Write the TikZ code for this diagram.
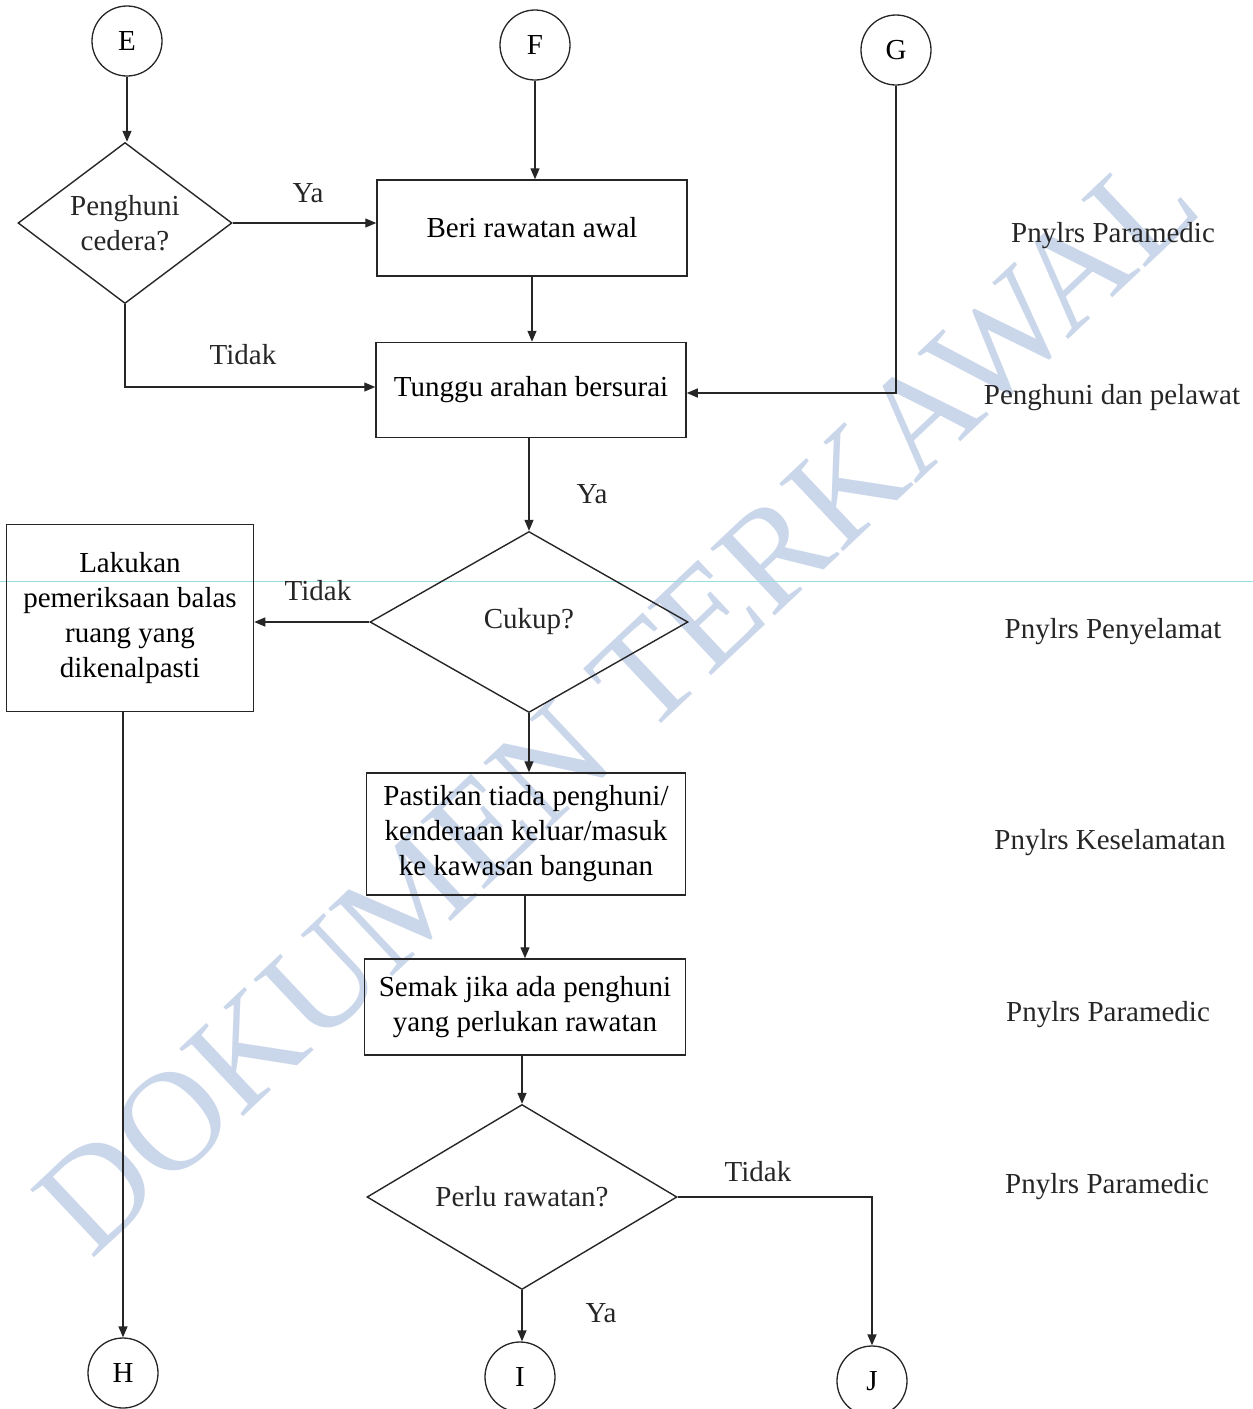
\documentclass[tikz,border=0pt]{standalone}
\usepackage{fontspec}
\setmainfont{Liberation Serif}
\usetikzlibrary{shapes.geometric,arrows.meta,calc}
\definecolor{ink}{rgb}{0.15,0.15,0.15}
\definecolor{wmblue}{RGB}{202,214,234}
\definecolor{scanline}{RGB}{150,222,222}
\tikzset{
  flowbox/.style={draw=ink, line width=1.5pt, rectangle, inner sep=0pt, align=center},
  dia/.style={draw=ink, line width=1.4pt, diamond, inner sep=0pt},
  conn/.style={draw=ink, circle, line width=1.3pt, minimum size=70pt, inner sep=0pt},
  arr/.style={draw=ink, line width=1.3pt, -{Triangle[length=11pt,width=9pt]}},
  lbl/.style={text=ink, inner sep=0pt},
  role/.style={text=ink, inner sep=0pt},
}
\begin{document}
\begin{tikzpicture}[x=1pt,y=-1pt,font=\fontsize{29}{35}\selectfont]
\useasboundingbox (0,0) rectangle (1253,1409);
% watermark
\node[rotate=43.3, text=wmblue, inner sep=0pt, font=\fontsize{142}{142}\selectfont] (wm) at (617,702) {DOKUMEN TERKAWAL};
% scan line
\draw[scanline, line width=0.9pt] (0,581) -- (1253,581);

% connectors (circles)
\node[conn] (E) at (127,41) {E};
\node[conn] (F) at (535,45) {F};
\node[conn] (G) at (896,50) {G};
\node[conn] (H) at (123,1373) {H};
\node[conn] (I) at (520,1377) {I};
\node[conn] (J) at (872,1381) {J};

% decision 1
\node[dia, minimum width=214pt, minimum height=161pt] (d1) at (125,223) {};
\node[lbl, align=center] (d1t) at (d1) {Penghuni\\cedera?};

% boxes
\node[flowbox, minimum width=310pt, minimum height=96pt] (beri) at (532,228) {Beri rawatan awal};
\node[flowbox, minimum width=310pt, minimum height=95pt] (tunggu) at (531,390) {Tunggu arahan bersurai};

% decision cukup
\node[dia, minimum width=318pt, minimum height=181pt] (cukup) at (529,622) {};
\node[lbl] (cukupt) at (cukup) {Cukup?};

\node[flowbox, minimum width=247pt, minimum height=187pt] (lak) at (130,618) {Lakukan\\pemeriksaan balas\\ruang yang\\dikenalpasti};

\node[flowbox, minimum width=319pt, minimum height=122pt] (pas) at (526,834) {Pastikan tiada penghuni/\\kenderaan keluar/masuk\\ke kawasan bangunan};

\node[flowbox, minimum width=321pt, minimum height=96pt] (semak) at (525,1007) {Semak jika ada penghuni\\yang perlukan rawatan};

\node[dia, minimum width=310pt, minimum height=185pt] (perlu) at (522,1197) {};
\node[lbl] (perlut) at (perlu) {Perlu rawatan?};

% arrows
\draw[arr] (E.south) -- (E.south |- d1.north);
\draw[arr] (F.south) -- (F.south |- beri.north);
\draw[arr] (d1.east) -- (d1.east -| beri.west);
\draw[arr] (beri.south) -- (beri.south |- tunggu.north);
\draw[arr] (d1.south) |- ($(tunggu.west)+(0,-3)$);
\draw[arr] (G.south) |- ($(tunggu.east)+(0,3)$);
\draw[arr] (cukup.north |- tunggu.south) -- (cukup.north);
\draw[arr] (cukup.west) -- (cukup.west -| lak.east);
\draw[arr] (cukup.south) -- (cukup.south |- pas.north);
\draw[arr] (pas.south -| semak.north) -- (semak.north);
\draw[arr] (semak.south -| perlu.north) -- (perlu.north);
\draw[arr] (H.north |- lak.south) -- (H.north);
\draw[arr] (perlu.south) -- (perlu.south |- I.north);
\draw[arr] (perlu.east) -| (J.north);

% edge labels
\node[lbl] (ya1) at (308,193) {Ya};
\node[lbl] (tidak1) at (243,355) {Tidak};
\node[lbl] (ya2) at (592,494) {Ya};
\node[lbl] (tidak2) at (318,591) {Tidak};
\node[lbl] (tidak3) at (758,1172) {Tidak};
\node[lbl] (ya3) at (601,1313) {Ya};

% role labels
\node[role] (r1) at (1113,236) {Pnylrs Paramedic};
\node[role] (r2) at (1112,398) {Penghuni dan pelawat};
\node[role] (r3) at (1113,632) {Pnylrs Penyelamat};
\node[role] (r4) at (1110,843) {Pnylrs Keselamatan};
\node[role] (r5) at (1108,1015) {Pnylrs Paramedic};
\node[role] (r6) at (1107,1187) {Pnylrs Paramedic};
\end{tikzpicture}
\end{document}
